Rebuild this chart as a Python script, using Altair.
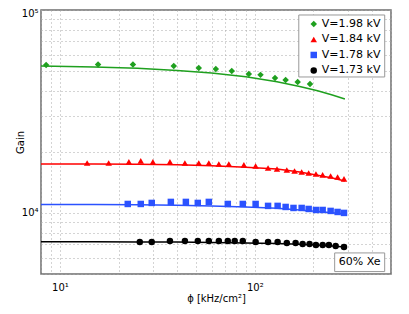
import altair as alt
import pandas as pd

# ---------------- data ----------------
series_names = ["V=1.98 kV", "V=1.84 kV", "V=1.78 kV", "V=1.73 kV"]
series_colors = ["#1fa01f", "#ff0000", "#2b52ff", "#000000"]
series_shapes = ["diamond", "triangle-up", "square", "circle"]

phi_198 = [8.5, 15.7, 23.7, 38.4, 51.6, 63.1, 76.2, 93.2, 107, 127, 144, 166, 192]
gain_198 = [53600, 53900, 53900, 53000, 51800, 51200, 50100, 48400, 47900, 46200, 45200, 44200, 43200]

phi_184 = [13.8, 17.8, 22.6, 26.0, 30.0, 36.7, 43.8, 51.6, 58.1, 65.4, 73.6, 87.9,
           101, 117, 130, 146, 160, 174, 189, 206, 223, 245, 266, 287]
gain_184 = [17630, 17630, 17840, 18040, 17840, 17840, 17630, 17630, 17630, 17430, 17430, 17240,
            17040, 16660, 16470, 16280, 16100, 15920, 15740, 15560, 15390, 15210, 15040, 14710]

phi_178 = [22.3, 26.0, 29.6, 37.1, 44.3, 51.0, 58.1, 72.7, 86.8, 101, 117, 131,
           144, 158, 174, 189, 206, 223, 245, 266, 287]
gain_178 = [11070, 11070, 11200, 11330, 11330, 11200, 11330, 11070, 11070, 11070, 10830, 10830,
            10700, 10580, 10580, 10460, 10340, 10340, 10230, 10110, 10000]

phi_173 = [25.7, 29.6, 36.7, 43.8, 51.0, 58.1, 65.4, 72.7, 78.9, 86.8, 101, 117,
           131, 146, 162, 176, 191, 206, 223, 240, 260, 287]
gain_173 = [7196, 7196, 7280, 7280, 7280, 7280, 7280, 7280, 7280, 7280, 7196, 7196,
            7196, 7115, 7115, 7035, 7035, 6955, 6955, 6955, 6877, 6800]

# fitted curves (read at a common set of phi values)
fit_phi = [8, 15, 25, 40, 60, 90, 130, 170, 210, 250, 290]
fit_198 = [53000, 52410, 51600, 50400, 48900, 46850, 44340, 42020, 39970, 38100, 36420]
fit_184 = [17430, 17430, 17380, 17280, 17100, 16800, 16450, 15900, 15350, 14850, 14380]
fit_178 = [11010, 11000, 10970, 10920, 10830, 10700, 10530, 10340, 10170, 10030, 9890]
fit_173 = [7200, 7200, 7190, 7180, 7150, 7110, 7060, 7000, 6940, 6870, 6800]

x_ticks = [8, 9, 10, 20, 30, 40, 50, 60, 70, 80, 90, 100, 200, 300, 400, 500]
y_ticks = [5000, 6000, 7000, 8000, 9000, 10000, 20000, 30000, 40000, 50000,
           60000, 70000, 80000, 90000, 100000]

# legend box (upper right, in data units of the axes)
legend_box = {"x": [168.2], "x2": [464.2], "y": [46770], "y2": [94490]}
legend_symbol_phi = 200.7
legend_label_phi = 220.7
legend_row_gain = [85330, 71560, 60030, 50350]

note_text = "60% Xe"
note_box = {"x": [257], "x2": [464], "y": [5140], "y2": [6350], "tx": [345], "ty": [5700]}

# ---------------- tables ----------------
pts_rows = []
for name, ph, g in zip(series_names, [phi_198, phi_184, phi_178, phi_173],
                       [gain_198, gain_184, gain_178, gain_173]):
    for a, b in zip(ph, g):
        pts_rows.append({"series": name, "phi": a, "gain": b})
pts = pd.DataFrame(pts_rows)

fit_rows = []
for name, g in zip(series_names, [fit_198, fit_184, fit_178, fit_173]):
    for a, b in zip(fit_phi, g):
        fit_rows.append({"series": name, "phi": a, "gain": b})
fits = pd.DataFrame(fit_rows)

leg_df = pd.DataFrame({
    "series": series_names,
    "sx": [legend_symbol_phi] * 4,
    "lx": [legend_label_phi] * 4,
    "gy": legend_row_gain,
})
leg_box_df = pd.DataFrame(legend_box)
note_df = pd.DataFrame(note_box)

FONT = "DejaVu Sans"

x_scale = alt.Scale(type="log", domain=[8, 500], nice=False)
y_scale = alt.Scale(type="log", domain=[5000, 100000], nice=False)
color_scale = alt.Scale(domain=series_names, range=series_colors)
shape_scale = alt.Scale(domain=series_names, range=series_shapes)

x_axis = alt.Axis(
    values=x_ticks,
    labelExpr="datum.value == 10 ? '10¹' : (datum.value == 100 ? '10²' : '')",
    title="ϕ [kHz/cm²]",
    grid=True, ticks=False, domain=False,
    labelFlush=False, labelOverlap=False, labelPadding=8,
    labelFont=FONT, labelFontSize=10, labelColor="black",
    titleFont=FONT, titleFontSize=10, titleFontWeight="normal", titleColor="black",
    titleY=24, titleBaseline="middle",
)
y_axis = alt.Axis(
    values=y_ticks,
    labelExpr="datum.value == 10000 ? '10⁴' : (datum.value == 100000 ? '10⁵' : '')",
    title="Gain",
    grid=True, ticks=False, domain=False,
    labelFlush=False, labelOverlap=False, labelPadding=3,
    labelOffset={"condition": {"test": "datum.value == 100000", "value": 3}, "value": 0},
    labelFont=FONT, labelFontSize=10, labelColor="black",
    titleFont=FONT, titleFontSize=10, titleFontWeight="normal", titleColor="black",
    titleX=-21, titleY=132, titleBaseline="middle", titleAlign="center", titleAngle=-90,
)

lines = alt.Chart(fits).mark_line(strokeWidth=1.5).encode(
    x=alt.X("phi:Q", scale=x_scale, axis=x_axis),
    y=alt.Y("gain:Q", scale=y_scale, axis=y_axis),
    stroke=alt.Stroke("series:N", scale=color_scale, legend=None),
    detail="series:N",
)

points = alt.Chart(pts).mark_point(filled=True, opacity=1, size=42).encode(
    x=alt.X("phi:Q", scale=x_scale),
    y=alt.Y("gain:Q", scale=y_scale),
    color=alt.Color("series:N", scale=color_scale, legend=None),
    shape=alt.Shape("series:N", scale=shape_scale, legend=None),
)

leg_rect = alt.Chart(leg_box_df).mark_rect(fill="white", stroke="#999999", strokeWidth=1).encode(
    x=alt.X("x:Q", scale=x_scale), x2="x2:Q",
    y=alt.Y("y:Q", scale=y_scale), y2="y2:Q",
)
leg_sym = alt.Chart(leg_df).mark_point(filled=True, opacity=1, size=42).encode(
    x=alt.X("sx:Q", scale=x_scale),
    y=alt.Y("gy:Q", scale=y_scale),
    color=alt.Color("series:N", scale=color_scale, legend=None),
    shape=alt.Shape("series:N", scale=shape_scale, legend=None),
)
leg_txt = alt.Chart(leg_df).mark_text(font=FONT, fontSize=11, color="black",
                                      align="left", baseline="middle").encode(
    x=alt.X("lx:Q", scale=x_scale),
    y=alt.Y("gy:Q", scale=y_scale),
    text="series:N",
)

note_rect = alt.Chart(note_df).mark_rect(fill="white", stroke="#999999", strokeWidth=1).encode(
    x=alt.X("x:Q", scale=x_scale), x2="x2:Q",
    y=alt.Y("y:Q", scale=y_scale), y2="y2:Q",
)
note_label = alt.Chart(note_df).mark_text(font=FONT, fontSize=11, color="black").encode(
    x=alt.X("tx:Q", scale=x_scale),
    y=alt.Y("ty:Q", scale=y_scale),
    text=alt.value(note_text),
)

chart = alt.layer(lines, points, leg_rect, leg_sym, leg_txt, note_rect, note_label).properties(
    width=350, height=264,
    autosize=alt.AutoSizeParams(type="none"),
    padding={"left": 33, "top": 2, "right": 10, "bottom": 32},
).configure_view(
    stroke="#6e6e6e", strokeWidth=1.5
).configure_axis(
    gridColor="#a8a8a8", gridDash=[1, 3], gridWidth=1
)

chart.save("out.html", embed_options={"renderer": "svg", "actions": False})
